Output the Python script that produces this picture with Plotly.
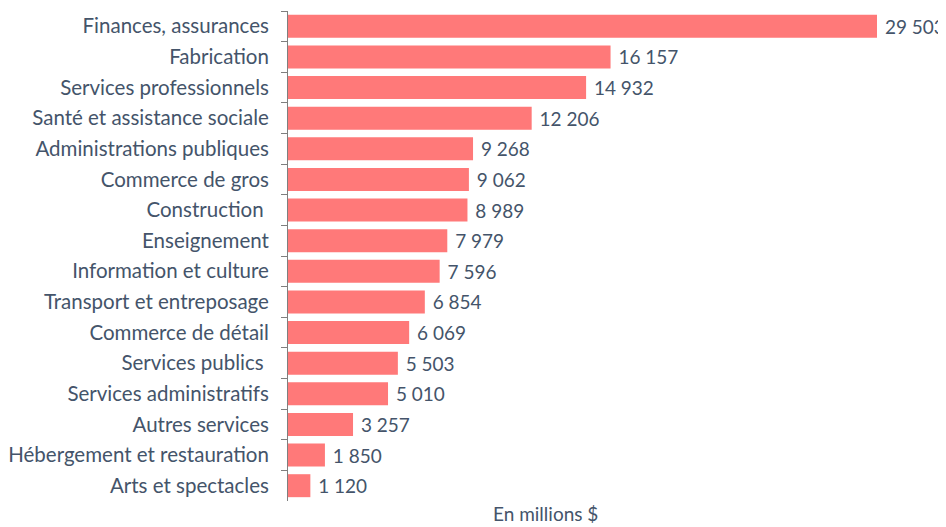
import plotly.graph_objects as go

categories = ["Finances, assurances", "Fabrication", "Services professionnels",
              "Santé et assistance sociale", "Administrations publiques",
              "Commerce de gros", "Construction ", "Enseignement",
              "Information et culture", "Transport et entreposage",
              "Commerce de détail", "Services publics ", "Services administratifs",
              "Autres services", "Hébergement et restauration", "Arts et spectacles"]
values = [29503, 16157, 14932, 12206, 9268, 9062, 8989, 7979, 7596, 6854,
          6069, 5503, 5010, 3257, 1850, 1120]
axis_title = "En millions $"

FONT = "Lato"
FS = 20.5
TXT = "#44546A"
BAR = "#FF7979"

# page body has an 8px margin; figure sized to fill the rest of the 946x527 window
OFF = 8
W, H = 946 - OFF, 527 - OFF
L, R, T, B = 288 - OFF, 19, 11 - OFF, 26

pw = W - L - R
ph = H - T - B

fig = go.Figure(go.Bar(
    x=values, y=categories, orientation="h",
    marker=dict(color=BAR, line=dict(width=0)),
    texttemplate="\u00a0%{x:,.0f}", textposition="outside",
    textfont=dict(family=FONT, size=19, color=TXT),
    cliponaxis=False,
))

fig.update_layout(
    width=W, height=H,
    margin=dict(l=L, r=R, t=T, b=B, autoexpand=False),
    paper_bgcolor="white", plot_bgcolor="white",
    separators=", ",
    bargap=0.25,
    showlegend=False,
    font=dict(family=FONT, size=FS, color=TXT),
    xaxis=dict(range=[0, 29503 * pw / (877 - 288)], visible=False, showgrid=False,
               zeroline=False, automargin=False),
    yaxis=dict(autorange="reversed", showline=True, linecolor="#7F7F7F", linewidth=1,
               ticks="outside", ticklen=6, tickcolor="#7F7F7F", tickson="boundaries",
               ticklabelstandoff=14, showgrid=False, automargin=False,
               tickfont=dict(family=FONT, size=FS, color=TXT)),
    annotations=[dict(text=axis_title, x=(545 - 288) / pw, y=-(527 - 501) / ph,
                      xref="paper", yref="paper", xanchor="center", yanchor="bottom",
                      showarrow=False, font=dict(family=FONT, size=19, color=TXT))],
)

fig.write_html("out.html")
